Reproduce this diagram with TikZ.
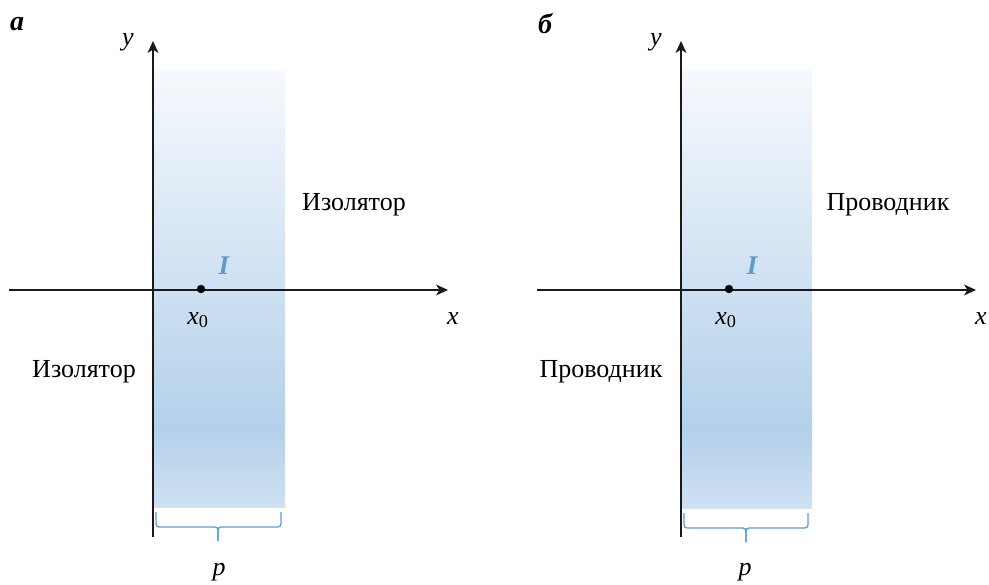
\documentclass[tikz,border=0pt]{standalone}
\usepackage{fontspec}
\setmainfont{Liberation Serif}
\usetikzlibrary{arrows.meta}
\definecolor{accent}{HTML}{5B9BD5}
\definecolor{shtop}{HTML}{F6F9FD}
\definecolor{shmid}{HTML}{B3D0EA}
\definecolor{shbot}{HTML}{CFE1F3}
\definecolor{axiscol}{HTML}{1A1A1A}
\tikzset{
  axis/.style={draw=axiscol, line width=1.4pt, -{Stealth[length=12pt,width=11pt,inset=3.5pt]}},
  lbl/.style={inner sep=0pt, font=\fontsize{26}{30}\selectfont},
  panel/.style={inner sep=0pt, font=\fontsize{28}{32}\selectfont\bfseries\itshape},
  ilbl/.style={inner sep=0pt, text=accent, font=\fontsize{27}{30}\selectfont\bfseries\itshape},
  bracecol/.style={draw=accent, line width=1.3pt, rounded corners=3pt},
  dotpt/.style={circle, fill=black, draw=axiscol, inner sep=0pt, minimum size=8pt}
}
\begin{document}
\begin{tikzpicture}[x=1pt,y=-1pt]
\useasboundingbox (0,0) rectangle (989,585);
% ---------------- panel a ----------------
\shade[top color=shtop, bottom color=shmid] (153,71) rectangle (285,431);
\shade[top color=shmid, bottom color=shbot] (153,430) rectangle (285,507);
\coordinate (ya0) at (153,537);
\coordinate (ya1) at (153,41);
\coordinate (xa0) at (9,290);
\coordinate (xa1) at (448,290);
\draw[axis] (ya0) -- (ya1);
\draw[axis] (xa0) -- (xa1);
\node[dotpt] (pa) at (201,289) {};
\node[panel] (la) at (17,24) {а};
\node[lbl] (ylbla) at (128,42) {\textit{y}};
\node[lbl] (xlbla) at (453,319) {\textit{x}};
\node[lbl] (x0a) at (198,320) {\textit{x}\textsubscript{0}};
\node[ilbl] (Ia) at (224,266) {I};
\node[lbl] (ta1) at (354,205) {Изолятор};
\node[lbl] (ta2) at (84,372) {Изолятор};
\node[lbl] (pla) at (219,572) {\textit{p}};
\coordinate (ba1) at (156,512);
\coordinate (ba2) at (281,512);
\coordinate (bam) at (218,527);
\coordinate (bat) at (218,541);
\draw[bracecol] (ba1) |- (bam) -- (bat);
\draw[bracecol] (ba2) |- (bam) -- (bat);
% ---------------- panel b ----------------
\shade[top color=shtop, bottom color=shmid] (681,71) rectangle (812,431);
\shade[top color=shmid, bottom color=shbot] (681,430) rectangle (812,508);
\coordinate (yb0) at (681,537);
\coordinate (yb1) at (681,41);
\coordinate (xb0) at (537,290);
\coordinate (xb1) at (976,290);
\draw[axis] (yb0) -- (yb1);
\draw[axis] (xb0) -- (xb1);
\node[dotpt] (pb) at (729,289) {};
\node[panel] (lb) at (545,24) {б};
\node[lbl] (ylblb) at (656,42) {\textit{y}};
\node[lbl] (xlblb) at (981,319) {\textit{x}};
\node[lbl] (x0b) at (726,320) {\textit{x}\textsubscript{0}};
\node[ilbl] (Ib) at (752,266) {I};
\node[lbl] (tb1) at (888,205) {Проводник};
\node[lbl] (tb2) at (601,372) {Проводник};
\node[lbl] (plb) at (745,572) {\textit{p}};
\coordinate (bb1) at (684,513);
\coordinate (bb2) at (808,513);
\coordinate (bbm) at (746,528);
\coordinate (bbt) at (746,542);
\draw[bracecol] (bb1) |- (bbm) -- (bbt);
\draw[bracecol] (bb2) |- (bbm) -- (bbt);
\end{tikzpicture}
\end{document}
